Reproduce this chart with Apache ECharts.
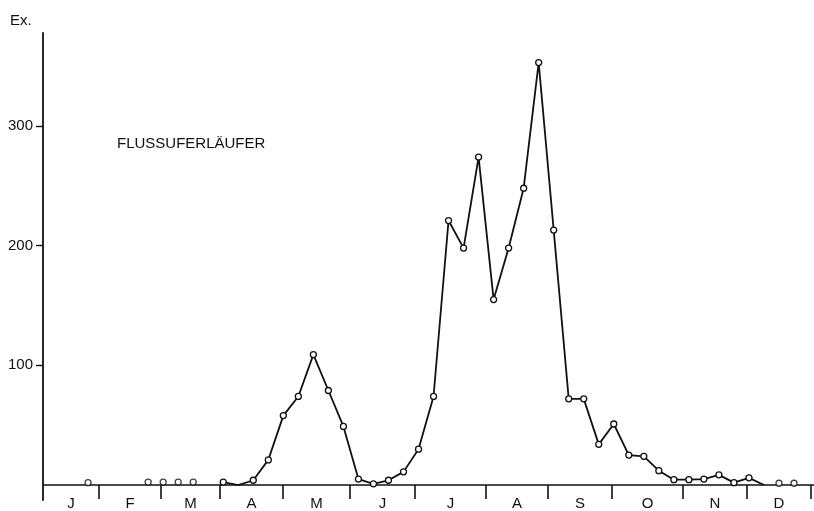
<!DOCTYPE html>
<html><head><meta charset="utf-8">
<script src="https://cdn.jsdelivr.net/npm/echarts@6/dist/echarts.min.js"></script>
<style>html,body{margin:0;padding:0;background:#fff}#c{width:814px;height:511px}</style>
</head><body><div id="c"></div>
<script>
const title = 'FLUSSUFERLÄUFER';
const yAxisName = 'Ex.';
const monthLabels = ['J','F','M','A','M','J','J','A','S','O','N','D'];
// month boundaries on the week scale, as drawn
const monthBounds = [0, 3.73, 7.86, 11.78, 15.98, 20.44, 24.77, 29.49, 33.62, 37.88, 42.61, 46.87, 51.13];
const yTicks = [100, 200, 300];
const lineWeeks  = [12,13,14,15,16,17,18,19,20,21,22,23,24,25,26,27,28,29,30,31,32,33,34,35,36,37,38,39,40,41,42,43,44,45,46,47,48];
const lineCounts = [2.5,0,4,21,58,74,109,79,49,5,1,4,11,30,74,221,198,274,155,198,248,353,213,72,72,34,51,25,24,12,4.5,4.5,5,8.5,2,6,0];
const unmarkedWeeks = [13, 48];
const isolatedWeeks  = [3, 7, 8, 9, 10, 49, 50];
const isolatedCounts = [2, 2.5, 2.5, 2.5, 2.5, 1.5, 1.5];

const FONT = '"Liberation Sans", Arial, sans-serif';
const monthMids = monthLabels.map((m, i) => (monthBounds[i] + monthBounds[i + 1]) / 2);

const chart = echarts.init(document.getElementById('c'), null, {renderer: 'canvas'});
chart.setOption({
  animation: false,
  backgroundColor: '#fff',
  grid: {left: 43, right: 0, top: 33, bottom: 11, containLabel: false, outerBoundsMode: 'none'},
  xAxis: {
    type: 'value', min: 0, max: 51.33,
    splitLine: {show: false},
    axisLine: {show: true, onZero: true, lineStyle: {color: '#111', width: 1.6}},
    axisTick: {show: true, customValues: monthBounds.slice(1), length: 14, lineStyle: {color: '#111', width: 1.6}},
    axisLabel: {
      show: true, customValues: monthMids, margin: -4, hideOverlap: false,
      color: '#111', fontSize: 15, fontFamily: FONT,
      formatter: v => {
        let best = 0;
        monthMids.forEach((m, i) => { if (Math.abs(m - v) < Math.abs(monthMids[best] - v)) best = i; });
        return monthLabels[best];
      }
    }
  },
  yAxis: {
    type: 'value', min: -12.5, max: 377.7,
    splitLine: {show: false},
    axisLine: {show: true, onZero: true, lineStyle: {color: '#111', width: 1.8}},
    axisTick: {show: true, customValues: yTicks, length: 7, lineStyle: {color: '#111', width: 1.4}},
    axisLabel: {show: true, customValues: yTicks, margin: 10, color: '#111', fontSize: 15, fontFamily: FONT}
  },
  graphic: [
    {type: 'text', left: 10, top: 13, style: {text: yAxisName, font: '15px ' + FONT, fill: '#111'}},
    {type: 'text', left: 117, top: 136, style: {text: title, font: '15px ' + FONT, fill: '#111'}}
  ],
  series: [
    {
      type: 'line',
      data: lineWeeks.map((w, i) => unmarkedWeeks.includes(w)
        ? {value: [w, lineCounts[i]], symbol: 'none'}
        : [w, lineCounts[i]]),
      symbol: 'circle', symbolSize: 6, showSymbol: true,
      lineStyle: {color: '#111', width: 1.8},
      itemStyle: {color: '#fff', borderColor: '#111', borderWidth: 1.3},
      z: 3
    },
    {
      type: 'scatter',
      data: isolatedWeeks.map((w, i) => [w, isolatedCounts[i]]),
      symbol: 'circle', symbolSize: 6,
      itemStyle: {color: '#fff', borderColor: '#111', borderWidth: 1.3},
      z: 3
    }
  ]
});
</script></body></html>
